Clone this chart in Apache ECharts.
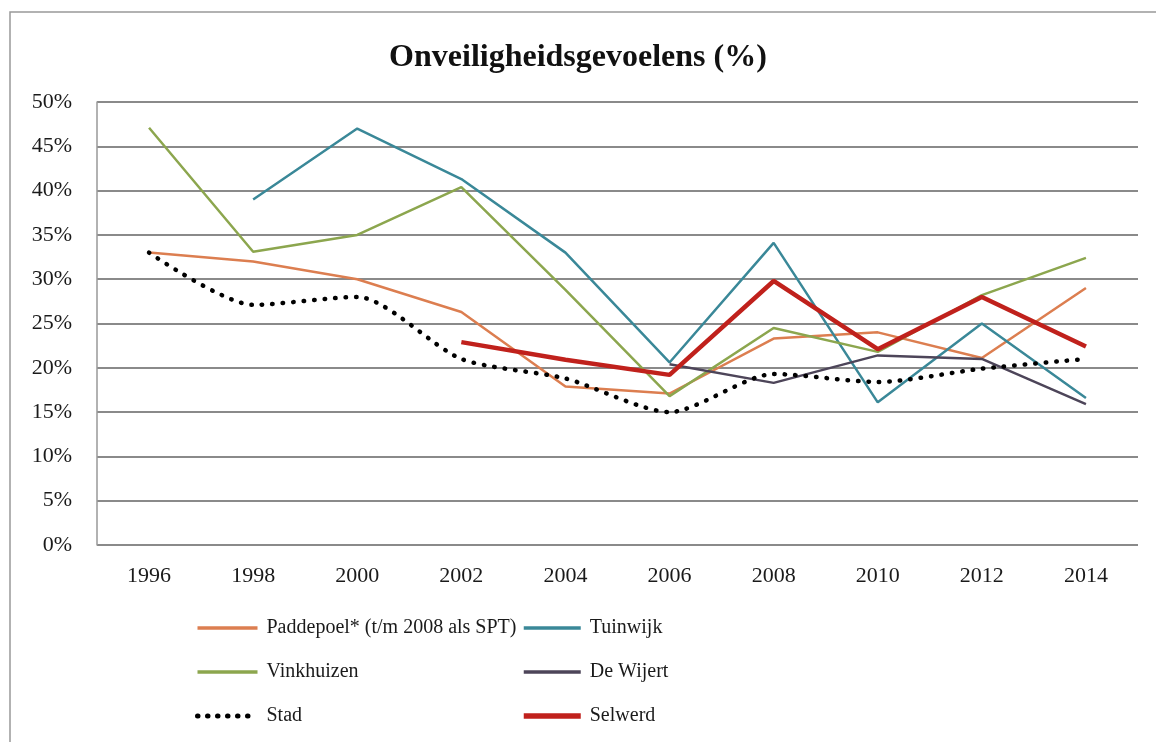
<!DOCTYPE html>
<html><head><meta charset="utf-8">
<script src="https://cdn.jsdelivr.net/npm/echarts@6/dist/echarts.min.js"></script>
<style>html,body{margin:0;padding:0;background:#fff}#c{width:1156px;height:742px}</style>
</head><body><div id="c"></div>
<script>
const years = ['1996','1998','2000','2002','2004','2006','2008','2010','2012','2014'];
const paddepoel = [33.0, 32.0, 30.0, 26.3, 17.9, 17.1, 23.3, 24.0, 21.1, 29.0];
const tuinwijk = [null, 39.0, 47.0, 41.3, 33.0, 20.6, 34.1, 16.1, 25.0, 16.6];
const vinkhuizen = [47.1, 33.1, 35.0, 40.4, 28.8, 16.8, 24.5, 21.8, 28.2, 32.4];
const deWijert = [null, null, null, null, null, 20.4, 18.3, 21.4, 21.0, 15.9];
const stad = [33.0, 27.1, 28.0, 21.0, 18.8, 15.0, 19.3, 18.4, 19.9, 21.0];
const selwerd = [null, null, null, 22.9, 20.9, 19.2, 29.8, 22.1, 28.0, 22.4];
const yTicks = [0, 5, 10, 15, 20, 25, 30, 35, 40, 45, 50];

const FONT = '"Liberation Serif", "DejaVu Serif", serif';
const chart = echarts.init(document.getElementById('c'), null, {renderer: 'canvas'});
function line(name, data, color, width, extra) {
  return Object.assign({name, type: 'line', data, symbol: 'none', connectNulls: false, z: 2,
    lineStyle: {color, width}, itemStyle: {color}}, extra || {});
}
const legendText = {fontFamily: FONT, fontSize: 20, color: '#1a1a1a', padding: [0, 0, 0, 4]};
const S_PAD = 'Paddepoel* (t/m 2008 als SPT)';
chart.setOption({
  animation: false,
  title: {text: 'Onveiligheidsgevoelens (%)', left: 'center', top: 37,
    textStyle: {fontFamily: FONT, fontSize: 32, fontWeight: 'bold', color: '#111'}},
  graphic: [{type: 'rect', shape: {x: 10, y: 12, width: 1200, height: 800},
    style: {fill: 'none', stroke: '#999', lineWidth: 1.5}, silent: true}],
  grid: {left: 97, right: 18, top: 102, bottom: 197},
  legend: [
    {orient: 'vertical', left: 195, top: 618, padding: 0, itemWidth: 60, itemHeight: 20, itemGap: 24,
     textStyle: legendText, itemStyle: {opacity: 0},
     data: [
       {name: S_PAD, lineStyle: {width: 3.5}},
       {name: 'Vinkhuizen', lineStyle: {width: 3.5}},
       {name: 'Stad', lineStyle: {width: 5, type: [0.5, 9.5], cap: 'round'}}
     ]},
    {orient: 'vertical', left: 521, top: 618, padding: 0, itemWidth: 57, itemHeight: 20, itemGap: 24,
     textStyle: legendText, itemStyle: {opacity: 0},
     data: [
       {name: 'Tuinwijk', lineStyle: {width: 3.5}},
       {name: 'De Wijert', lineStyle: {width: 3.5}},
       {name: 'Selwerd', lineStyle: {width: 5.5}}
     ]}
  ],
  xAxis: {type: 'category', data: years, boundaryGap: true,
    axisLine: {show: false}, axisTick: {show: false},
    axisLabel: {fontFamily: FONT, fontSize: 22, color: '#1a1a1a', margin: 20}},
  yAxis: {type: 'value', min: 0, max: 50, interval: 5,
    axisLine: {show: true, lineStyle: {color: '#999', width: 1.5}}, axisTick: {show: false},
    axisLabel: {fontFamily: FONT, fontSize: 22, color: '#1a1a1a', margin: 25,
      formatter: v => yTicks.includes(v) ? v + '%' : ''},
    splitLine: {lineStyle: {color: '#8a8a8a', width: 2}}},
  series: [
    line(S_PAD, paddepoel, '#dc7e50', 2.5),
    line('Tuinwijk', tuinwijk, '#3a8898', 2.5),
    line('Vinkhuizen', vinkhuizen, '#8ca64e', 2.5),
    line('De Wijert', deWijert, '#4d4559', 2.5),
    line('Stad', stad, '#000000', 4.5, {z: 3, smooth: 0.25,
      lineStyle: {color: '#000', width: 4.5, type: [0.5, 10], cap: 'round'}}),
    line('Selwerd', selwerd, '#c0211c', 4.5, {z: 4})
  ]
});
</script></body></html>
